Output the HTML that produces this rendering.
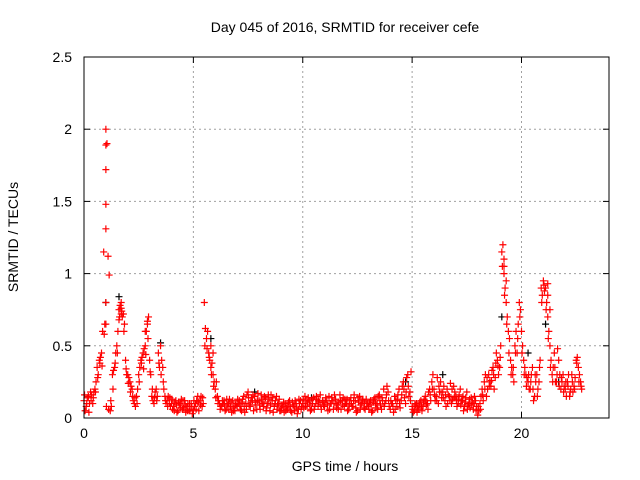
<!DOCTYPE html>
<html><head><meta charset="utf-8"><style>
body{margin:0;background:#fff;}
svg{display:block;font-family:"Liberation Sans",sans-serif;}
</style></head><body>
<svg id="chart" width="640" height="480">
<text x="345" y="32" text-anchor="middle" font-size="14" fill="#000">Day 045 of 2016, SRMTID for receiver cefe</text>
<text x="18" y="237" text-anchor="middle" font-size="14" transform="rotate(-90 18 237)">SRMTID / TECUs</text>
<text x="345" y="471" text-anchor="middle" font-size="14">GPS time / hours</text>
<g id="grid"></g>
<g id="ticks"></g>
<g id="marks"></g>
<rect x="84" y="57" width="525" height="361" fill="none" stroke="#000" stroke-width="1"/>
</svg>
<script>
const xTicks=[0,5,10,15,20];
const yTicks=[0,0.5,1,1.5,2,2.5];
const yTickLabels=["0","0.5","1","1.5","2","2.5"];
const values1=[
.12,.08,.15,.18,.10,.20,.35,.40,.45,1.15,
2.0,1.12,.05,.30,.35,.50,.75,.80,.72,.40,
.30,.25,.20,.10,.15,.30,.40,.45,.50,.65,
.40,.15,.10,.20,.45,.50,.35,.15,.12,.10,
.10,.08,.12,.05,.10,.06,.12,.08,.05,.10,
.05,.10,.15,.12,.08,.80,.55,.45,.35,.30,
.20,.15,.10,.08,.12,.06,.10,.08,.12,.05,
.08,.12,.05,.15,.10,.18,.08,.12,.15,.06,
.12,.16,.08,.14,.10,.05,.12,.08,.15,.10,
.05,.08,.10,.06,.12,.04,.08,.10,.06,.12,
.10,.15,.08,.12,.06,.14,.10,.08,.16,.12,
.08,.12,.15,.10,.06,.13,.09,.16,.12,.08,
.10,.06,.14,.08,.12,.05,.15,.10,.07,.13,
.08,.12,.05,.14,.10,.16,.06,.20,.12,.18,
.06,.10,.15,.08,.20,.12,.25,.10,.30,.18,
.08,.05,.10,.06,.12,.08,.15,.10,.20,.25,
.20,.15,.10,.25,.18,.12,.20,.15,.10,.22,
.15,.10,.20,.12,.08,.18,.10,.14,.06,.12,
.02,.10,.20,.25,.15,.30,.22,.35,.28,.40,
.35,1.15,1.0,.80,.60,.40,.30,.50,.45,.80,
.60,.40,.30,.25,.20,.35,.15,.30,.25,.90,
.95,.90,.70,.50,.30,.45,.25,.40,.20,.30,
.20,.25,.15,.30,.22,.40,.35,.25];
const values2=[
.05,.14,.10,.16,.18,.25,.30,.42,.60,.65,
1.9,.99,.08,.33,.45,.60,.78,.70,.65,.30,
.28,.22,.12,.08,.20,.35,.42,.48,.60,.70,
.30,.12,.18,.15,.35,.40,.20,.10,.15,.08,
.06,.11,.04,.09,.13,.07,.04,.10,.06,.03,
.08,.12,.05,.15,.10,.62,.60,.40,.38,.25,
.25,.12,.08,.10,.05,.09,.13,.04,.07,.10,
.10,.06,.13,.04,.16,.09,.14,.05,.11,.17,
.06,.10,.15,.07,.13,.16,.04,.12,.09,.05,
.09,.04,.07,.11,.05,.09,.12,.03,.10,.08,
.07,.12,.14,.05,.10,.08,.13,.11,.06,.09,
.14,.05,.10,.12,.16,.07,.11,.06,.14,.10,
.05,.12,.08,.16,.04,.11,.09,.13,.06,.10,
.11,.04,.13,.07,.15,.09,.12,.10,.22,.08,
.10,.04,.12,.16,.07,.22,.14,.28,.15,.32,
.04,.09,.07,.11,.05,.13,.09,.18,.12,.30,
.12,.28,.18,.14,.22,.08,.16,.24,.13,.18,
.08,.16,.12,.05,.14,.09,.07,.11,.15,.08,
.05,.15,.12,.30,.20,.25,.33,.20,.45,.30,
.50,1.20,.90,.70,.55,.35,.25,.60,.65,.75,
.50,.35,.28,.20,.30,.12,.25,.20,.40,.85,
.88,.80,.60,.40,.35,.25,.48,.30,.25,.22,
.15,.30,.20,.18,.28,.42,.30,.20];
const values3=[
.16,.10,.04,.12,.14,.18,.28,.38,.36,.58,
.08,.06,.12,.20,.38,.45,.70,.74,.60,.34,
.24,.18,.15,.14,.10,.25,.38,.34,.44,.55,
.32,.20,.14,.12,.38,.30,.25,.12,.08,.14,
.13,.05,.09,.11,.07,.12,.09,.05,.10,.08,
.12,.06,.11,.09,.14,.50,.48,.42,.30,.22,
.14,.10,.06,.12,.09,.13,.06,.11,.05,.09,
.13,.09,.11,.08,.06,.14,.11,.16,.09,.12,
.09,.13,.11,.05,.16,.09,.14,.10,.06,.13,
.07,.11,.05,.09,.08,.11,.05,.07,.13,.06,
.13,.08,.11,.09,.13,.06,.15,.12,.09,.11,
.11,.09,.06,.14,.10,.10,.06,.12,.09,.13,
.13,.09,.10,.12,.07,.14,.06,.12,.11,.08,
.06,.09,.11,.10,.06,.12,.14,.08,.16,.12,
.12,.08,.06,.13,.10,.16,.20,.18,.22,.12,
.06,.10,.04,.09,.08,.11,.12,.06,.16,.20,
.16,.12,.22,.18,.14,.16,.10,.12,.20,.14,
.12,.13,.09,.15,.11,.06,.13,.09,.10,.05,
.08,.06,.16,.20,.28,.22,.26,.30,.38,.36,
.42,1.05,.85,.65,.45,.30,.35,.45,.55,.70,
.45,.30,.22,.30,.25,.20,.30,.15,.35,.80,
.92,.75,.55,.35,.25,.35,.30,.22,.28,.18,
.25,.22,.18,.25,.20,.38,.25,.22];
const extraTimes=[1.0,1.0,1.0,1.0,1.0,1.0,1.7,1.7,1.6,19.2,19.2,19.3,21.2,21.2,21.3,2.8,2.9,5.9,5.8];
const extraValues=[1.89,1.72,1.48,1.31,.80,.65,.76,.72,.68,1.1,1.05,.95,.93,.85,.75,.60,.67,.45,.50];
const blackTimes=[1.0,1.6,3.5,5.8,7.8,10.4,14.7,16.4,19.1,20.3,21.1,21.7];
const blackValues=[.80,.84,.52,.55,.18,.14,.25,.30,.70,.45,.65,.25];

const X0=84,X1=609,Y0=418,Y1=57;
const xs=t=>X0+(t/24)*(X1-X0);
const ys=v=>Y0-(v/2.5)*(Y0-Y1);
const NS="http://www.w3.org/2000/svg";
const grid=document.getElementById('grid'),ticks=document.getElementById('ticks'),marks=document.getElementById('marks');
function mk(tag,attrs,parent){const e=document.createElementNS(NS,tag);for(const k in attrs)e.setAttribute(k,attrs[k]);parent.appendChild(e);return e;}
xTicks.forEach(t=>{
  const x=xs(t);
  if(t>0){const g=mk('line',{x1:x,x2:x,y1:Y0,y2:Y1,stroke:'#a0a0a0','stroke-dasharray':'2,3'},grid);
  
  }
  mk('line',{x1:x,x2:x,y1:Y0,y2:Y0-6,stroke:'#000'},ticks);
  mk('line',{x1:x,x2:x,y1:Y1,y2:Y1+6,stroke:'#000'},ticks);
  const l=mk('text',{x:x,y:Y0+20,'text-anchor':'middle','font-size':'14'},ticks);l.textContent=t;
  
  
});
yTicks.forEach((v,i)=>{
  const y=ys(v);
  if(v>0&&v<2.5){const g=mk('line',{x1:X0,x2:X1,y1:y,y2:y,stroke:'#a0a0a0','stroke-dasharray':'2,3'},grid);
  
  }
  mk('line',{x1:X0,x2:X0+6,y1:y,y2:y,stroke:'#000'},ticks);
  mk('line',{x1:X1,x2:X1-6,y1:y,y2:y,stroke:'#000'},ticks);
  const l=mk('text',{x:X0-12,y:y+5,'text-anchor':'end','font-size':'14'},ticks);l.textContent=yTickLabels[i];
  
  
});
function plus(t,v,color,name){
  const x=xs(t),y=ys(v);
  const p=mk('path',{d:`M${x-3.5},${y}h7M${x},${y-3.5}v7`,stroke:color,'stroke-width':'1.2',fill:'none'},marks);
  
  
}
blackTimes.forEach((t,i)=>plus(t,blackValues[i],'#000','point-black'));
values1.forEach((v,i)=>plus(i*0.1,v,'#ff0000','point'));
values2.forEach((v,i)=>plus(i*0.1+0.05,v,'#ff0000','point'));
values3.forEach((v,i)=>plus(i*0.1+0.025,v,'#ff0000','point'));
extraTimes.forEach((t,i)=>plus(t,extraValues[i],'#ff0000','point'));
</script>
</body></html>
